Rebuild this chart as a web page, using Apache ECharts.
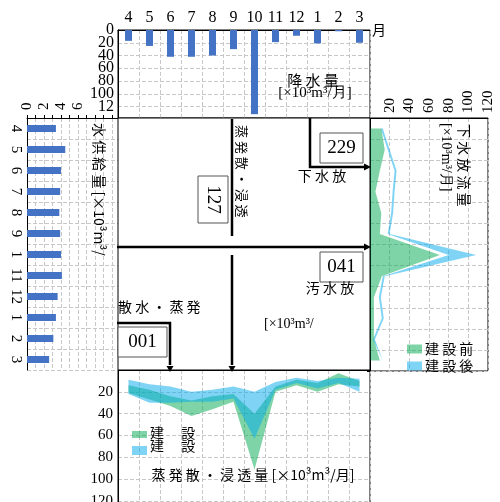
<!DOCTYPE html>
<html>
<head>
<meta charset="utf-8">
<script src="https://cdn.jsdelivr.net/npm/echarts@6/dist/echarts.min.js"></script>
<style>
  html, body { margin: 0; padding: 0; background: #fff; }
  #chart { width: 500px; height: 502px; }
</style>
</head>
<body>
<div id="chart"></div>
<script>
// months (April start)
const months = ['4', '5', '6', '7', '8', '9', '10', '11', '12', '1', '2', '3'];
// rainfall [x10^3 m3/month], top panel
const rainfall = [17, 25, 42, 42, 40, 30, 132, 19, 9, 21, 2, 20];
// water supply, left panel
const supply = [3.4, 4.5, 4.0, 3.9, 3.8, 3.9, 4.0, 4.1, 3.6, 3.4, 3.1, 2.6];
// sewer discharge, right panel
const sewerBefore = [11.5, 15, 10, 5.5, 11.5, 10, 71, 12, 4, 4, 4, 10];
const sewerAfterLow = [11, 18, 25, 23, 21.5, 18, 80, 13, 9, 12, 3, 11];
const sewerAfterHigh = [13, 20, 27, 25, 23.5, 20, 108, 15, 11, 14, 5, 13];
// evapotranspiration + infiltration, bottom panel
const evapBeforeLow = [14, 18, 24, 28, 24, 22, 40, 15, 9, 12, 3, 10];
const evapBeforeHigh = [21, 27, 33, 42, 36, 29, 91, 20, 14, 20, 13, 15];
const evapAfterLow = [9, 13, 15, 20, 18, 15, 20, 11, 7, 10, 7, 8];
const evapAfterHigh = [22, 30, 30, 29, 29, 26, 63, 18, 12, 17, 12, 20];
// boxed totals in the middle
const totals = { sewer: '229', evap: '127', waste: '041', sprinkle: '001' };

const GREEN = 'rgba(0,170,80,0.5)';
const BLUE = 'rgba(0,170,235,0.5)';
const SERIF = 'Liberation Serif';
const JP = 'Noto Sans CJK JP';
const dash = { show: true, lineStyle: { color: '#c8c8c8', type: 'dashed', width: 1 } };
const black = { show: true, lineStyle: { color: '#000', width: 1 } };

const diff = (hi, lo) => hi.map((v, i) => +(v - lo[i]).toFixed(2));

const myChart = echarts.init(document.getElementById('chart'));

function band(name, lo, hi, color, x, y, stack) {
  return [
    { type: 'line', name: stack + 'base', stack: stack, xAxisIndex: x, yAxisIndex: y, data: lo,
      symbol: 'none', lineStyle: { opacity: 0 }, areaStyle: { opacity: 0 }, silent: true },
    { type: 'line', name: name, stack: stack, xAxisIndex: x, yAxisIndex: y, data: diff(hi, lo),
      symbol: 'none', color: color, lineStyle: { opacity: 0 }, areaStyle: { color: color, opacity: 1 } }
  ];
}

function arrowDown(x, y) {
  return { type: 'polygon', z: 100, shape: { points: [[x - 3.5, y - 6], [x + 3.5, y - 6], [x, y]] }, style: { fill: '#000' } };
}
function arrowRight(x, y) {
  return { type: 'polygon', z: 100, shape: { points: [[x - 7, y - 3.5], [x - 7, y + 3.5], [x, y]] }, style: { fill: '#000' } };
}
function txt(t, x, y, opt) {
  return Object.assign({ type: 'text', z: 100, x: x, y: y,
    style: Object.assign({ text: t, fill: '#000', font: '14px "' + JP + '"', align: 'center', verticalAlign: 'middle' }, opt || {}) });
}
function box(x, y, w, h) {
  return { type: 'rect', z: 99, shape: { x: x, y: y, width: w, height: h },
    style: { fill: '#fff', stroke: '#555', lineWidth: 1 } };
}
function seg(points, w) {
  return { type: 'polyline', z: 100, shape: { points: points }, style: { stroke: '#000', lineWidth: w || 2.5, fill: null } };
}

const rainAxis = { gridIndex: 0, type: 'value', inverse: true, min: 0, max: 138, interval: 20 };
const rainLabel = { color: '#000', fontFamily: SERIF, fontSize: 16, margin: 4 };

const option = {
  animation: false,
  backgroundColor: '#fff',
  grid: [
    { left: 118, top: 30, width: 252, height: 88, show: true, borderColor: '#000', borderWidth: 1, outerBoundsMode: 'none' },
    { left: 27, top: 118, width: 91, height: 252, outerBoundsMode: 'none' },
    { left: 370, top: 118, width: 118, height: 253, show: true, borderColor: '#000', borderWidth: 1, outerBoundsMode: 'none' },
    { left: 118, top: 370, width: 252, height: 136, show: true, borderColor: '#000', borderWidth: 1, outerBoundsMode: 'none' }
  ],
  xAxis: [
    { gridIndex: 0, type: 'category', position: 'top', data: months,
      axisLine: black, axisTick: { show: false }, splitLine: dash,
      axisLabel: { color: '#000', fontFamily: SERIF, fontSize: 16, margin: 4 },
      name: '月', nameLocation: 'end', nameGap: 2,
      nameTextStyle: { color: '#000', fontFamily: JP, fontSize: 14, padding: [0, 0, 4, 0] } },
    { gridIndex: 1, type: 'value', position: 'top', min: 0, max: 10.7, interval: 1,
      axisLine: black, axisTick: { show: true, length: 3, lineStyle: { color: '#000' } }, splitLine: dash,
      axisLabel: { color: '#000', fontFamily: SERIF, fontSize: 15, rotate: -90, margin: 8,
        formatter: v => (v % 2 === 0 && v <= 6 ? String(v) : '') } },
    { gridIndex: 2, type: 'value', position: 'top', min: 0, max: 120, interval: 20,
      axisLine: black, axisTick: { show: false }, splitLine: dash,
      axisLabel: { color: '#000', fontFamily: SERIF, fontSize: 15, rotate: -90, margin: 5,
        formatter: v => (v === 0 ? '' : String(v)) } },
    { gridIndex: 3, type: 'category', position: 'top', data: months,
      axisLine: black, axisTick: { show: false }, splitLine: dash, axisLabel: { show: false } }
  ],
  yAxis: [
    Object.assign({}, rainAxis, {
      axisLine: black, axisTick: { show: false }, splitLine: dash,
      axisLabel: Object.assign({}, rainLabel, { showMinLabel: false,
        formatter: v => (v === 120 ? '12' : String(v)) }) }),
    { gridIndex: 1, type: 'category', inverse: true, data: months,
      axisLine: black, axisTick: { show: false }, splitLine: dash,
      axisLabel: { color: '#000', fontFamily: SERIF, fontSize: 15, rotate: -90, margin: 4,
        formatter: v => (v === '10' ? '1' : v) } },
    { gridIndex: 2, type: 'category', inverse: true, data: months,
      axisLine: black, axisTick: { show: true, length: 3, lineStyle: { color: '#000' } }, splitLine: dash,
      axisLabel: { show: false } },
    { gridIndex: 3, type: 'value', inverse: true, min: 0, max: 124.5, interval: 20,
      axisLine: black, axisTick: { show: false }, splitLine: dash,
      axisLabel: { color: '#000', fontFamily: SERIF, fontSize: 15, margin: 5,
        formatter: v => (v === 0 ? '' : String(v)) } },
    // second copy of the rainfall axis, only for the "0" label that overlaps "20"
    Object.assign({}, rainAxis, { position: 'left', offset: 0,
      axisLine: { show: false }, axisTick: { show: false }, splitLine: { show: false },
      axisLabel: Object.assign({}, rainLabel, { showMinLabel: true,
        formatter: v => (v === 0 ? '0' : '') }) })
  ],
  legend: {
    left: 402, top: 337, orient: 'vertical', icon: 'rect', itemWidth: 15, itemHeight: 9, itemGap: 3,
    textStyle: { color: '#000', fontFamily: JP, fontSize: 14, padding: [0, 0, 0, -2] },
    data: [
      { name: '建 設 前', itemStyle: { color: GREEN } },
      { name: '建 設 後', itemStyle: { color: BLUE } }
    ]
  },
  series: [
    { type: 'bar', xAxisIndex: 0, yAxisIndex: 0, data: rainfall, barWidth: 7, itemStyle: { color: '#4472C4' } },
    { type: 'bar', xAxisIndex: 1, yAxisIndex: 1, data: supply, barWidth: 7, itemStyle: { color: '#4472C4' } },
    ...band('建 設 後', sewerAfterLow, sewerAfterHigh, BLUE, 2, 2, 'sa'),
    { type: 'line', name: '建 設 前', xAxisIndex: 2, yAxisIndex: 2, data: sewerBefore, symbol: 'none', z: 3,
      color: GREEN, lineStyle: { opacity: 0 }, areaStyle: { color: GREEN, opacity: 1 } },
    ...band('evapBefore', evapBeforeLow, evapBeforeHigh, GREEN, 3, 3, 'eb'),
    ...band('evapAfter', evapAfterLow, evapAfterHigh, BLUE, 3, 3, 'ea')
  ],
  graphic: [
    // top panel title
    txt('降 水 量', 313, 80, { font: '15px "' + JP + '"' }),
    txt('[×10³m³/月]', 315, 93, { font: '15px "' + SERIF + '"' }),
    // left panel title
    txt('水 供 給 量 [×10³m³/', 99, 123, { align: 'left', font: '14px "' + JP + '"' , }),
    // right panel title
    txt('下 水 放 流 量', 464, 124, { align: 'left', font: '14px "' + JP + '"' }),
    txt('[×10³m³/月]', 446, 123, { align: 'left', font: '14px "' + SERIF + '"' }),
    // middle frame
    { type: 'rect', z: 98, shape: { x: 118, y: 118, width: 252, height: 252 }, style: { fill: '#fff', stroke: '#000', lineWidth: 1 } },
    // evapotranspiration column
    seg([[232, 119], [232, 236]]),
    box(198, 176, 30, 47),
    // sewer L-arrow
    seg([[310, 118], [310, 167], [364, 167]]),
    arrowRight(371, 167),
    box(320, 133, 43, 30),
    txt('下 水 放', 322, 176),
    // main horizontal arrow
    seg([[117, 247], [364, 247]]),
    arrowRight(371, 247),
    box(320, 252, 43, 30),
    txt('汚 水 放', 330, 288),
    // down arrow to bottom panel
    seg([[232, 255], [232, 365]]),
    arrowDown(232, 372),
    // sprinkling L-arrow
    txt('散 水 ・ 蒸 発', 118, 307, { align: 'left' }),
    seg([[117, 323], [170, 323], [170, 365]]),
    arrowDown(170, 372),
    box(118, 327, 49, 30),
    txt('[×10³m³/', 264, 324, { align: 'left', font: '14px "' + SERIF + '"' }),
    // bottom legend
    { type: 'rect', z: 100, shape: { x: 132, y: 431, width: 15, height: 7 }, style: { fill: GREEN } },
    { type: 'rect', z: 100, shape: { x: 132, y: 446, width: 15, height: 9 }, style: { fill: BLUE } },
    txt('建　 設', 150, 433, { align: 'left' }),
    txt('建　 設', 150, 446, { align: 'left' }),
    txt('蒸 発 散 ・ 浸 透 量 [×10³m³/月]', 253, 475)
  ]
};

// boxed totals (127 is written sideways)
option.graphic.push(txt(totals.sewer, 341.5, 148.5, { font: '19px "' + SERIF + '"' }));
option.graphic.push(txt(totals.waste, 341.5, 267.5, { font: '19px "' + SERIF + '"' }));
option.graphic.push(txt(totals.sprinkle, 142.5, 342.5, { font: '19px "' + SERIF + '"' }));
option.graphic.push(Object.assign(txt(totals.evap, 213, 199.5, { font: '19px "' + SERIF + '"' }), { rotation: -Math.PI / 2 }));
// sideways labels
option.graphic.push(Object.assign(txt('蒸 発 散 ・ 浸 透', 241.5, 125, { align: 'left', font: '13px "' + JP + '"' }), { rotation: -Math.PI / 2 }));

// titles in the side panels are written sideways too
[2, 3, 4].forEach(i => { option.graphic[i].rotation = -Math.PI / 2; });

option && myChart.setOption(option);
</script>
</body>
</html>
